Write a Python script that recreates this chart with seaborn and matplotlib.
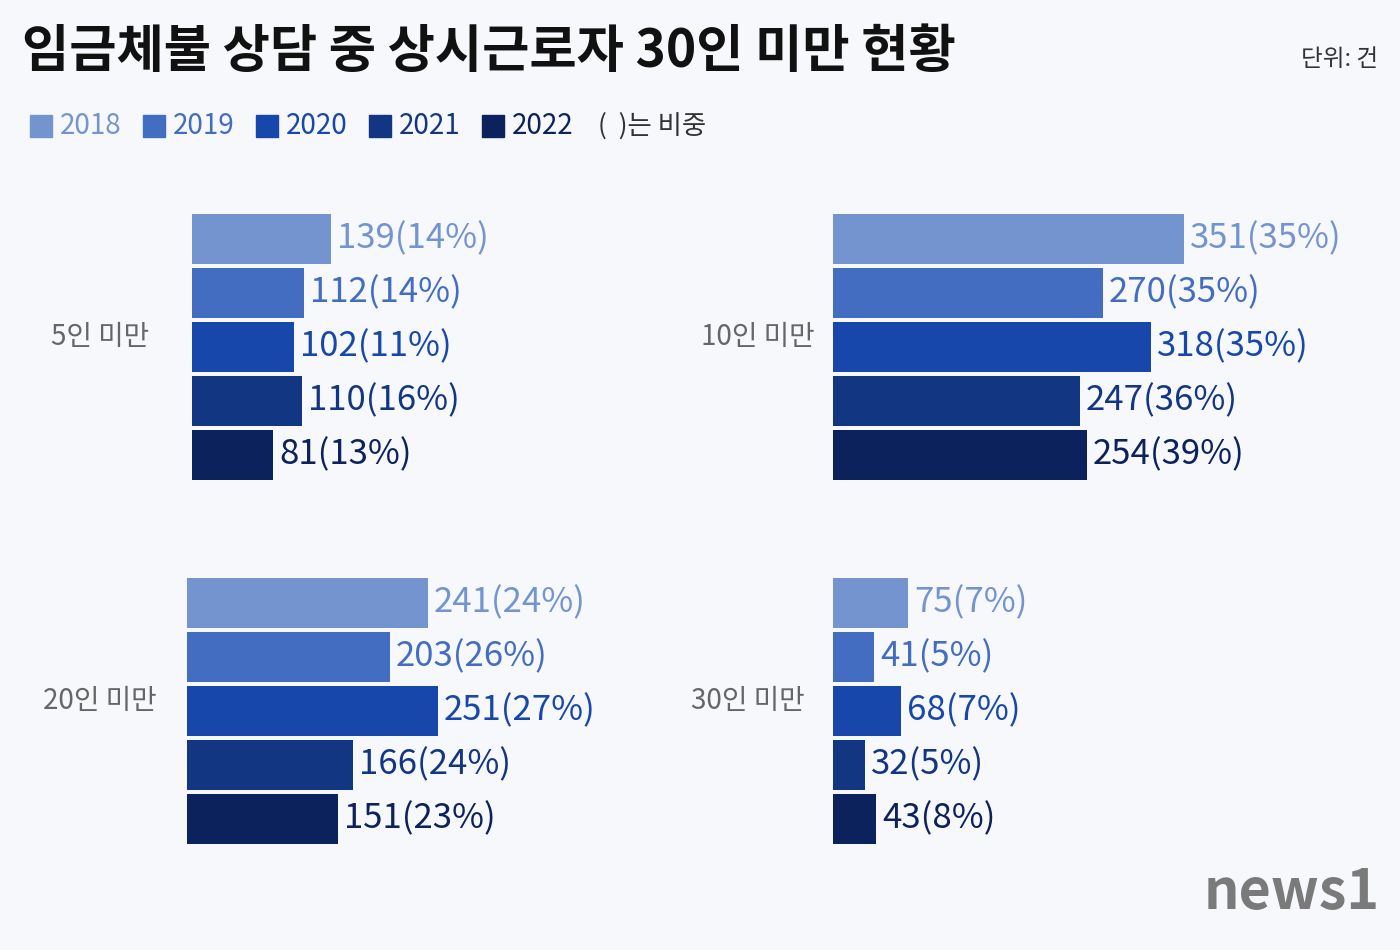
import matplotlib
matplotlib.use("Agg")
import matplotlib.pyplot as plt
from matplotlib.patches import Rectangle
import seaborn as sns
import pandas as pd

years = ["2018", "2019", "2020", "2021", "2022"]
groups = ["5인 미만", "10인 미만", "20인 미만", "30인 미만"]
counts = {
    "5인 미만": [139, 112, 102, 110, 81],
    "10인 미만": [351, 270, 318, 247, 254],
    "20인 미만": [241, 203, 251, 166, 151],
    "30인 미만": [75, 41, 68, 32, 43],
}
shares = {
    "5인 미만": [14, 14, 11, 16, 13],
    "10인 미만": [35, 35, 35, 36, 39],
    "20인 미만": [24, 26, 27, 24, 23],
    "30인 미만": [7, 5, 7, 5, 8],
}
colors = ["#7494cf", "#426dc0", "#1747aa", "#133683", "#0c225c"]

plt.rcParams["font.family"] = "sans-serif"
plt.rcParams["font.sans-serif"] = ["Noto Sans CJK KR", "Noto Sans CJK JP", "Noto Sans CJK SC",
                                   "DejaVu Sans"]
BG = "#f6f8fc"
W, H = 1400, 950
fig = plt.figure(figsize=(14, 9.5), dpi=100, facecolor=BG)

def px(x, y, w, h):
    return [x / W, 1 - (y + h) / H, w / W, h / H]

fig.text(22 / W, 1 - 52 / H, "임금체불 상담 중 상시근로자 30인 미만 현황", fontsize=37,
         fontweight="bold", va="center", ha="left", color="#111111")
fig.text(1378 / W, 1 - 60 / H, "단위: 건", fontsize=17, va="center", ha="right", color="#333333")

lx = 30
for i, y in enumerate(years):
    fig.patches.append(Rectangle((lx / W, 1 - 137 / H), 22 / W, 22 / H, color=colors[i],
                                 transform=fig.transFigure, figure=fig))
    fig.text((lx + 30) / W, 1 - 126 / H, y, fontsize=20, va="center", color=colors[i])
    lx += 113
fig.text(598 / W, 1 - 126 / H, "(  )는 비중", fontsize=19, va="center", color="#333333")

panels = {
    "5인 미만": (192, 212, 100),
    "10인 미만": (833, 212, 758),
    "20인 미만": (187, 576, 100),
    "30인 미만": (833, 576, 748),
}
for g in groups:
    x0, y0, lab_x = panels[g]
    ax = fig.add_axes(px(x0, y0, 520, 270))
    df = pd.DataFrame({"year": years, "value": counts[g]})
    sns.barplot(data=df, x="value", y="year", hue="year", palette=colors, orient="h",
                width=0.92, legend=False, ax=ax, saturation=1)
    ax.set_xlim(0, 520)
    ax.set_ylim(4.5, -0.5)
    ax.axis("off")
    for i, (v, s) in enumerate(zip(counts[g], shares[g])):
        ax.text(v + 6, i, f"{v}({s}%)", va="center", ha="left", fontsize=25,
                color=colors[i])
    fig.text(lab_x / W, 1 - (y0 + 125) / H, g, fontsize=20, ha="center", va="center",
             color="#666666")

fig.text(1380 / W, 1 - 893 / H, "news1", fontsize=40, fontweight="bold", style="italic",
         ha="right", va="center", color="#7a7a7a")

fig.savefig("out.png", dpi=100, facecolor=BG)
